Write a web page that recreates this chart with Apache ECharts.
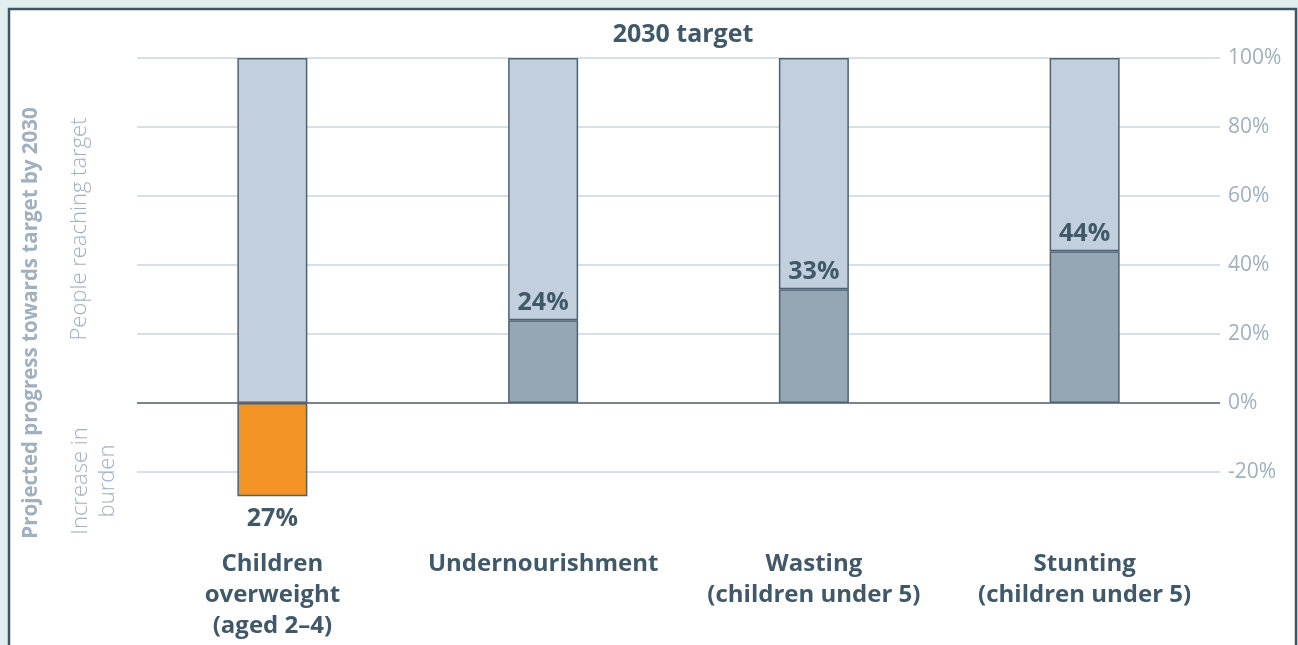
<!DOCTYPE html>
<html>
<head>
<meta charset="utf-8">
<script src="https://cdn.jsdelivr.net/npm/echarts@6/dist/echarts.min.js"></script>
<style>
html,body{margin:0;padding:0;background:#e1eeee;}
#chart{width:1298px;height:645px;}
</style>
</head>
<body>
<div id="chart"></div>
<script>
const categories = ['Children\noverweight\n(aged 2–4)', 'Undernourishment', 'Wasting\n(children under 5)', 'Stunting\n(children under 5)'];
const progress = [-27, 24, 33, 44];
const remaining = [100, 76, 67, 56];
const yTicks = [-40, -20, 0, 20, 40, 60, 80, 100];

const textDark = '#405868';
const axisGray = '#a0b0be';
const borderCol = '#4d6273';
const FONT = 'Open Sans';

const chart = echarts.init(document.getElementById('chart'));
const option = {
  backgroundColor: '#e1eeee',
  animation: false,
  title: {
    text: '2030 target',
    left: 678,
    textAlign: 'center',
    top: 17,
    textStyle: {fontFamily: FONT, fontWeight: 'bold', fontSize: 25, color: textDark}
  },
  graphic: [
    {type: 'rect', z: -10, silent: true, shape: {x: 9, y: 9, width: 1287, height: 700},
     style: {fill: '#ffffff', stroke: '#3e5563', lineWidth: 2.5}},
    {type: 'text', x: 31, y: 323, rotation: Math.PI / 2, silent: true,
     style: {text: 'Projected progress towards target by 2030', fill: axisGray, font: 'bold 20.5px "Open Sans"', align: 'center', verticalAlign: 'middle'}},
    {type: 'text', x: 80, y: 229, rotation: Math.PI / 2, silent: true,
     style: {text: 'People reaching target', fill: axisGray, font: '300 22px "Open Sans"', align: 'center', verticalAlign: 'middle'}},
    {type: 'text', x: 94, y: 481, rotation: Math.PI / 2, silent: true,
     style: {text: 'Increase in\nburden', fill: axisGray, font: '300 22px "Open Sans"', align: 'center', verticalAlign: 'middle', lineHeight: 27}}
  ],
  grid: {left: 137, right: 78, top: 58, bottom: 104, containLabel: false},
  xAxis: {
    type: 'category',
    data: categories,
    axisLine: {show: false, onZero: false},
    axisTick: {show: false},
    axisLabel: {interval: 0, margin: 8, color: textDark, fontFamily: FONT, fontWeight: 'bold', fontSize: 24, lineHeight: 31}
  },
  yAxis: {
    type: 'value',
    position: 'right',
    min: -40, max: 100, interval: 20,
    axisLine: {show: false},
    axisTick: {show: false},
    axisLabel: {margin: 8, color: axisGray, fontFamily: FONT, fontSize: 21,
      formatter: v => (v === -40 ? '' : v + '%')},
    splitLine: {show: true, showMinLine: false, lineStyle: {color: '#cad5e1', width: 1.5}}
  },
  series: [
    {
      type: 'bar',
      stack: 'p',
      barWidth: 70,
      data: progress.map(v => ({
        value: v,
        itemStyle: {color: v < 0 ? '#f39424' : '#95a7b4'},
        label: {position: v < 0 ? 'bottom' : 'top', distance: v < 0 ? 10 : 5}
      })),
      itemStyle: {borderColor: borderCol, borderWidth: 1.5},
      label: {show: true, formatter: p => Math.abs(p.value) + '%',
        color: textDark, fontFamily: FONT, fontWeight: 'bold', fontSize: 25},
      markLine: {
        silent: true, symbol: 'none', label: {show: false},
        lineStyle: {color: '#5c666e', width: 1.5, type: 'solid'},
        data: [{yAxis: 0}]
      },
      z: 3
    },
    {
      type: 'bar',
      stack: 'p',
      barWidth: 70,
      data: remaining,
      itemStyle: {color: '#c2cfdd', borderColor: borderCol, borderWidth: 1.5},
      z: 2
    }
  ]
};
chart.setOption(option);
</script>
</body>
</html>
